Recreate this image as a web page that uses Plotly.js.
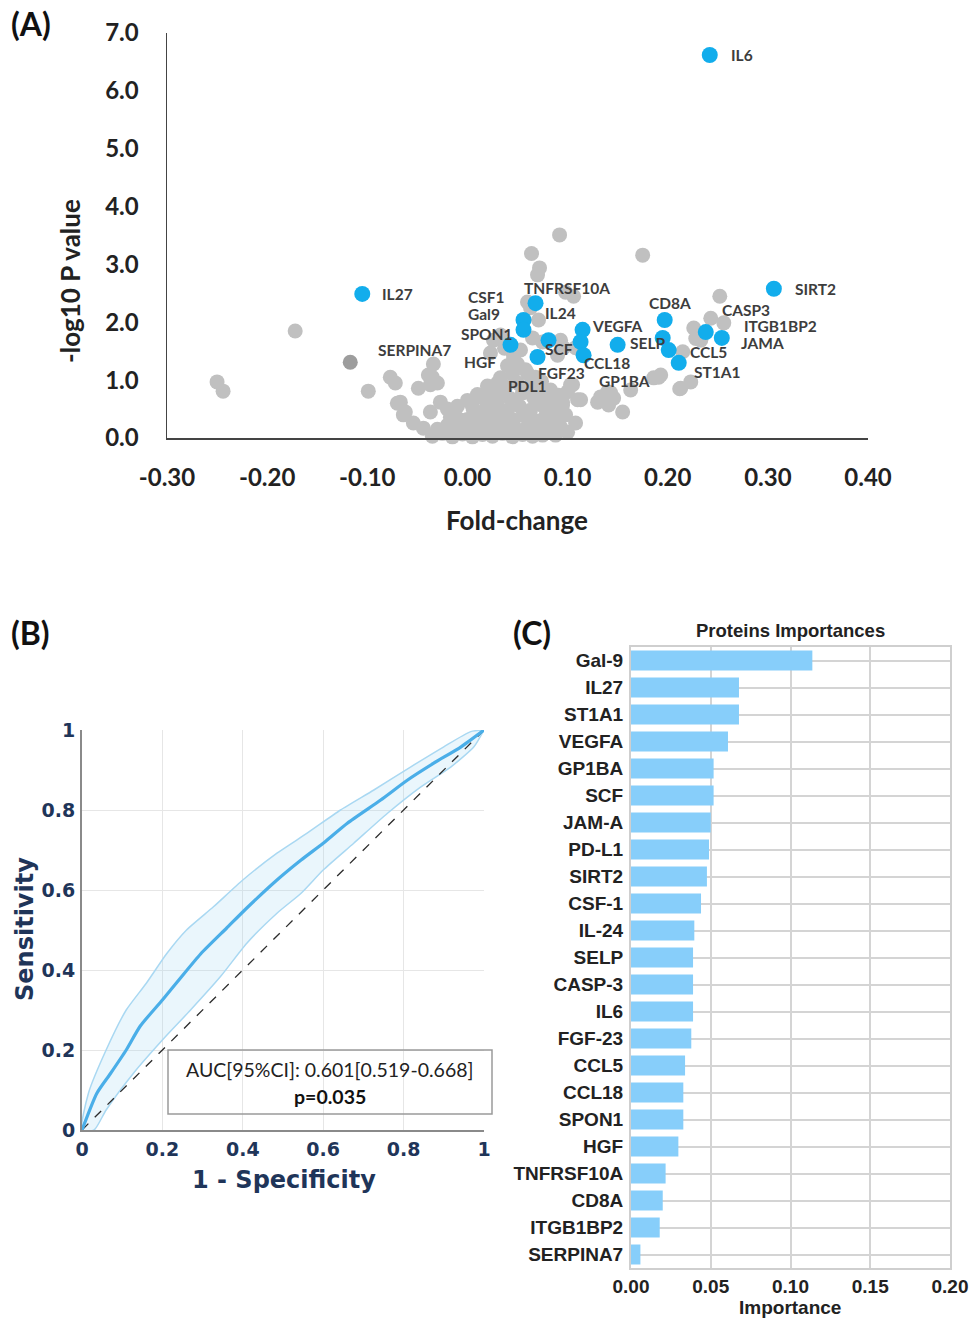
<!DOCTYPE html>
<html>
<head>
<meta charset="utf-8">
<script src="https://cdn.plot.ly/plotly-3.0.1.min.js"></script>
<style>html,body{margin:0;padding:0;background:#fff;}#chart{width:969px;height:1318px;}</style>
</head>
<body>
<div id="chart"></div>
<script>
// ---------- Panel A: volcano data ----------
const sigNames = ["IL6","IL27","SIRT2","CD8A","JAMA","ITGB1BP2","SELP","CCL5","CCL5b","ST1A1","VEGFA","VEGFAb","CCL18","Gal9","CSF1","IL24","FGF23","SCF","SPON1"];
const sigFC =    [0.242,-0.105,0.306,0.197,0.254,0.238,0.150,0.195,0.201,0.211,0.115,0.113,0.116,0.056,0.056,0.068,0.070,0.081,0.043];
const sigLogP =  [6.62, 2.49, 2.58, 2.04, 1.73, 1.83, 1.61, 1.73, 1.52, 1.30, 1.87, 1.66, 1.43, 2.04, 1.87, 2.33, 1.40, 1.69, 1.61];

const nsFC = [-0.250,-0.244,-0.172,-0.099,-0.077,-0.072,-0.070,-0.064,-0.054,-0.049,-0.035,-0.034,-0.037,
  -0.039,-0.030,-0.067,-0.062,-0.044,-0.027,-0.037,-0.017,-0.007,0.006,0.013,0.023,0.033,0.046,0.053,0.060,0.083,0.080,0.090,0.100,0.093,
  0.092,0.064,0.175,0.072,0.070,0.098,0.106,0.060,0.063,0.071,0.033,0.065,0.075,0.093,0.096,0.108,0.046,0.026,0.023,0.090,
  0.252,0.243,0.256,0.226,0.233,0.228,0.215,0.223,0.212,0.193,0.186,0.163,0.143,0.130,0.141,0.155,0.103,0.110,0.091,0.095,0.083,
  0.191,0.213,0.133,0.140,0.146,0.105,0.113,0.108,
  -0.035,-0.025,-0.015,-0.005,0.005,0.015,0.025,0.035,0.045,0.055,0.065,0.075,
  -0.030,-0.020,-0.010,0.000,0.010,0.020,0.030,0.040,0.050,0.060,0.070,0.080,
  -0.012,0.000,0.012,0.022,0.034,0.046,0.056,0.068,0.078,
  0.005,0.018,0.030,0.040,0.052,0.063,0.074,0.086,
  0.020,0.032,0.043,0.055,0.066,0.077,
  0.038,0.050,0.062,0.074,0.045,0.058,0.068,0.050,0.037,0.040,
  0.090,0.095,0.085,0.100,0.088,0.085,-0.020,-0.010,0.000,0.010,0.020,0.030,0.008,0.028,0.048,0.066,0.084,0.098];
const nsLogP = [0.97,0.81,1.85,0.81,1.05,0.95,0.60,0.40,0.26,0.86,1.05,1.28,0.92,
  1.09,0.95,0.62,0.45,0.17,0.62,0.45,0.36,0.31,0.48,0.71,0.83,1.04,1.35,1.52,1.12,0.83,0.43,0.31,0.80,0.19,
  3.51,3.19,3.16,2.94,2.82,2.52,2.45,2.35,2.25,2.04,1.78,1.73,1.66,1.69,1.56,1.56,1.43,1.69,1.47,1.43,
  2.45,2.07,1.99,1.90,1.69,1.72,1.49,0.97,0.85,1.09,1.04,0.83,0.78,0.62,0.57,0.45,0.92,0.66,0.74,0.57,0.36,
  1.05,0.86,0.71,0.80,0.69,0.92,0.66,0.26,
  0.03,0.08,0.02,0.07,0.02,0.06,0.03,0.08,0.02,0.06,0.03,0.05,
  0.15,0.22,0.14,0.20,0.13,0.22,0.15,0.21,0.14,0.20,0.13,0.18,
  0.38,0.32,0.40,0.30,0.37,0.31,0.39,0.30,0.38,
  0.55,0.50,0.58,0.47,0.55,0.48,0.57,0.50,
  0.65,0.75,0.68,0.78,0.70,0.76,
  0.88,0.95,0.90,0.98,1.10,1.18,1.05,1.28,1.55,1.25,
  0.50,0.62,0.45,0.10,0.05,0.12,0.50,0.55,0.65,0.75,0.90,0.95,0.27,0.45,0.62,0.85,0.68,0.40];
const darkFC = [-0.117];
const darkLogP = [1.31];

const labelText = ["IL6","IL27","SIRT2","CSF1","Gal9","SPON1","SERPINA7","HGF","TNFRSF10A","IL24","VEGFA","SCF","FGF23","CCL18","PDL1","GP1BA","SELP","CD8A","CASP3","ITGB1BP2","JAMA","CCL5","ST1A1"];
const labelX = [0.261,-0.087,0.325,0.019,0.017,0.020,-0.053,0.013,0.099,0.093,0.150,0.091,0.094,0.139,0.059,0.157,0.180,0.202,0.278,0.313,0.295,0.241,0.250];
const labelY = [6.62,2.49,2.58,2.44,2.14,1.80,1.52,1.31,2.59,2.16,1.94,1.54,1.12,1.30,0.90,0.99,1.64,2.33,2.21,1.94,1.64,1.49,1.14];
const labelLeft = ["IL6","IL27","SIRT2"];
const volcanoXTicks = [-0.3,-0.2,-0.1,0,0.1,0.2,0.3,0.4];
const volcanoXTickText = ["-0.30","-0.20","-0.10","0.00","0.10","0.20","0.30","0.40"];
const volcanoYTicks = [0,1,2,3,4,5,6,7];
const volcanoYTickText = ["0.0","1.0","2.0","3.0","4.0","5.0","6.0","7.0"];

// ---------- Panel B: ROC data ----------
const rocFPR = [0,0.037,0.07,0.11,0.145,0.20,0.245,0.295,0.36,0.41,0.485,0.545,0.60,0.66,0.743,0.81,0.875,0.943,1];
const rocTPR = [0,0.092,0.14,0.20,0.26,0.325,0.38,0.44,0.505,0.555,0.625,0.675,0.717,0.767,0.825,0.875,0.917,0.958,1];
const upFPR = [0,0.016,0.06,0.11,0.16,0.21,0.26,0.327,0.40,0.485,0.56,0.643,0.726,0.818,0.90,0.967,1];
const upTPR = [0,0.092,0.20,0.30,0.367,0.44,0.50,0.558,0.625,0.692,0.742,0.80,0.85,0.908,0.958,0.996,1];
const loFPR = [0,0.03,0.06,0.128,0.20,0.27,0.344,0.41,0.485,0.545,0.60,0.676,0.76,0.843,0.918,0.975,1];
const loTPR = [0,0,0.05,0.142,0.225,0.30,0.383,0.467,0.542,0.592,0.65,0.717,0.792,0.858,0.908,0.958,1];
const rocTicks = [0,0.2,0.4,0.6,0.8,1];
const rocTickText = ["0","0.2","0.4","0.6","0.8","1"];
const aucText = "AUC[95%CI]: 0.601[0.519-0.668]";
const pText = "p=0.035";

// ---------- Panel C: importance data ----------
const proteins = ["Gal-9","IL27","ST1A1","VEGFA","GP1BA","SCF","JAM-A","PD-L1","SIRT2","CSF-1","IL-24","SELP","CASP-3","IL6","FGF-23","CCL5","CCL18","SPON1","HGF","TNFRSF10A","CD8A","ITGB1BP2","SERPINA7"];
const importance = [0.1137,0.0677,0.0677,0.0608,0.0518,0.0518,0.0500,0.0489,0.0476,0.0439,0.0397,0.0389,0.0389,0.0389,0.0378,0.0339,0.0328,0.0328,0.0297,0.0217,0.0199,0.0180,0.0059];
const impTicks = [0,0.05,0.10,0.15,0.20];
const impTickText = ["0.00","0.05","0.10","0.15","0.20"];

// ---------- helpers ----------
const W = 969, H = 1318;
const px = v => v / W;
const py = v => 1 - v / H;

const fA = "Lato, 'Open Sans', sans-serif";
const fB = "'DejaVu Sans', Verdana, sans-serif";
const fC = "'Liberation Sans', Arial, sans-serif";
const navy = "#1f3559";

const traces = [];
traces.push({type:"scatter", mode:"markers", x:nsFC, y:nsLogP, xaxis:"x", yaxis:"y",
  marker:{size:15, color:"#c0c0c0", line:{width:0}}, cliponaxis:false, hoverinfo:"x+y"});
traces.push({type:"scatter", mode:"markers", x:darkFC, y:darkLogP, xaxis:"x", yaxis:"y",
  marker:{size:15, color:"#9d9d9d", line:{width:0}}, cliponaxis:false});
traces.push({type:"scatter", mode:"markers", x:sigFC, y:sigLogP, text:sigNames, xaxis:"x", yaxis:"y",
  marker:{size:16, color:"#12adec", line:{width:0}}, cliponaxis:false});

// ROC band as closed polygon
const bandX = upFPR.concat(loFPR.slice().reverse());
const bandY = upTPR.concat(loTPR.slice().reverse());
traces.push({type:"scatter", mode:"lines", x:bandX, y:bandY, xaxis:"x2", yaxis:"y2",
  fill:"toself", fillcolor:"rgba(160,214,242,0.22)", line:{color:"#a9d8f2", width:1.5, shape:"spline", smoothing:0.6}, cliponaxis:false});
traces.push({type:"scatter", mode:"lines", x:[0,1], y:[0,1], xaxis:"x2", yaxis:"y2",
  line:{color:"#2b2b2b", width:1.3, dash:"dash"}, cliponaxis:false});
traces.push({type:"scatter", mode:"lines", x:rocFPR, y:rocTPR, xaxis:"x2", yaxis:"y2",
  line:{color:"#4aaee8", width:3.2, shape:"spline", smoothing:0.6}, cliponaxis:false});

traces.push({type:"bar", orientation:"h", x:importance, y:proteins, xaxis:"x3", yaxis:"y3",
  marker:{color:"#87cefa", line:{width:0}}, width:0.74});

const annotations = [];
labelText.forEach((t,i) => {
  const left = labelLeft.includes(t);
  annotations.push({xref:"x", yref:"y", x:labelX[i], y:labelY[i], text:t, showarrow:false,
    xanchor:left?"left":"center", yanchor:"middle",
    font:{family:fA, size:15.5, color:"#3d3d3d", weight:"bold"}});
});
function pa(x, y, text, font, xa, ya, angle) {
  annotations.push({xref:"paper", yref:"paper", x:px(x), y:py(y), text:text, showarrow:false,
    xanchor:xa||"center", yanchor:ya||"middle", textangle:angle||0, font:font});
}
// panel letters
pa(9, 24, "(A)", {family:fA, size:32, color:"#111", weight:"bold"}, "left");
pa(9, 632, "(B)", {family:fA, size:32, color:"#111", weight:"bold"}, "left");
pa(511, 632, "(C)", {family:fA, size:32, color:"#111", weight:"bold"}, "left");
// axis titles A
pa(517, 520, "Fold-change", {family:fA, size:26, color:"#222", weight:"bold"});
pa(70, 281, "-log10 P value", {family:fA, size:26, color:"#222", weight:"bold"}, "center", "middle", -90);
// axis titles B
pa(284, 1180, "1 - Specificity", {family:fB, size:24, color:navy, weight:"bold"});
pa(25, 929, "Sensitivity", {family:fB, size:24, color:navy, weight:"bold"}, "center", "middle", -90);
pa(330, 1069, aucText, {family:fA, size:19.5, color:"#222"});
pa(330, 1096, pText, {family:fA, size:19.5, color:"#111", weight:"bold"});
// titles C
pa(790, 630, "Proteins Importances", {family:fC, size:18.5, color:"#222", weight:"bold"});
pa(790, 1307, "Importance", {family:fC, size:19, color:"#222", weight:"bold"});

const layout = {
  width:W, height:H, margin:{l:0,r:0,t:0,b:0}, showlegend:false,
  paper_bgcolor:"#fff", plot_bgcolor:"rgba(0,0,0,0)",
  xaxis:{domain:[px(167),px(868)], range:[-0.3,0.4], anchor:"y",
    tickvals:volcanoXTicks, ticktext:volcanoXTickText, showgrid:false, zeroline:false,
    showline:true, linecolor:"#444", linewidth:1.5, ticks:"", ticklabelstandoff:18,
    tickfont:{family:fA, size:24, color:"#222", weight:"bold"}},
  yaxis:{domain:[py(438),py(33)], range:[0,7], anchor:"x",
    tickvals:volcanoYTicks, ticktext:volcanoYTickText, showgrid:false, zeroline:false,
    showline:true, linecolor:"#444", linewidth:1.5, ticks:"", ticklabelstandoff:22,
    tickfont:{family:fA, size:24, color:"#222", weight:"bold"}},
  xaxis2:{domain:[px(82),px(484)], range:[0,1], anchor:"y2",
    tickvals:rocTicks, ticktext:rocTickText, showgrid:true, gridcolor:"#e6e6e6", gridwidth:1, zeroline:false,
    showline:true, linecolor:"#8a8a8a", linewidth:2, ticks:"", ticklabelstandoff:1,
    tickfont:{family:fB, size:19, color:navy, weight:"bold"}},
  yaxis2:{domain:[py(1130),py(730)], range:[0,1], anchor:"x2",
    tickvals:rocTicks, ticktext:rocTickText, showgrid:true, gridcolor:"#e6e6e6", gridwidth:1, zeroline:false,
    showline:true, linecolor:"#8a8a8a", linewidth:2, ticks:"", ticklabelstandoff:1,
    tickfont:{family:fB, size:19, color:navy, weight:"bold"}},
  xaxis3:{domain:[px(631),px(950)], range:[0,0.2], anchor:"y3",
    tickvals:impTicks, ticktext:impTickText, showgrid:true, gridcolor:"#d4d4d4", gridwidth:2, zeroline:false,
    showline:true, mirror:true, linecolor:"#cfcfcf", linewidth:2, ticks:"", ticklabelstandoff:0,
    tickfont:{family:fC, size:19, color:"#222", weight:"bold"}},
  yaxis3:{domain:[py(1268),py(647)], anchor:"x3", type:"category", autorange:"reversed",
    showgrid:true, gridcolor:"#d4d4d4", gridwidth:2, zeroline:false,
    showline:true, mirror:true, linecolor:"#cfcfcf", linewidth:2, ticks:"", ticklabelstandoff:2,
    tickfont:{family:fC, size:19, color:"#222", weight:"bold"}},
  shapes:[
    {type:"rect", xref:"paper", yref:"paper", x0:px(168), x1:px(492), y0:py(1114), y1:py(1050),
      line:{color:"#9a9a9a", width:1.5}, fillcolor:"rgba(255,255,255,0)", layer:"above"}
  ],
  annotations:annotations
};

Plotly.newPlot("chart", traces, layout, {staticPlot:true, displayModeBar:false});
</script>
</body>
</html>
